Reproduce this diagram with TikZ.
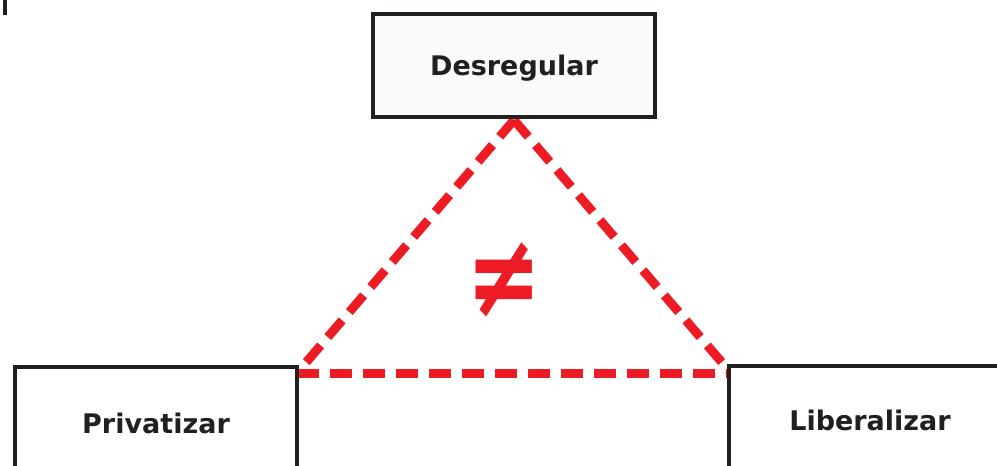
\documentclass[tikz,border=0pt]{standalone}
\usepackage{fontspec}
\setmainfont{DejaVu Sans}
\definecolor{boxline}{HTML}{231F20}
\definecolor{redline}{HTML}{ED1C24}
\definecolor{boxfill}{HTML}{FAFAFA}
\begin{document}
\begin{tikzpicture}[x=1pt,y=-1pt,
  termbox/.style={draw=boxline,line width=3.2pt,fill=boxfill,minimum width=282pt,inner sep=0pt,
    font=\fontsize{27}{32}\selectfont\bfseries,text=boxline,text height=20pt},
  reddash/.style={draw=redline,line width=9pt,dash pattern=on 22pt off 11pt}]
\useasboundingbox (0,0) rectangle (997,466);
\draw[boxline,line width=3.5pt] (5,0) -- (5,15);
\coordinate (A) at (514,120);
\coordinate (B) at (297,373);
\coordinate (C) at (731,373);
\draw[reddash] (B) -- (C);
\draw[reddash] (A) -- (B);
\draw[reddash] (A) -- (C);
\node[termbox,minimum height=103pt,text depth=-6pt] (top) at (514,65.5) {Desregular};
\node[termbox,minimum height=112pt,fill=white,text depth=-2pt] (left) at (156,423) {Privatizar};
\node[termbox,minimum height=112pt,fill=white,text depth=4pt] (right) at (870,422) {Liberalizar};
\node[text=redline,font=\fontsize{90}{100}\selectfont\bfseries,inner sep=0pt] (neq) at (504,280) {\scalebox{1}[1.3]{≠}};
\end{tikzpicture}
\end{document}
